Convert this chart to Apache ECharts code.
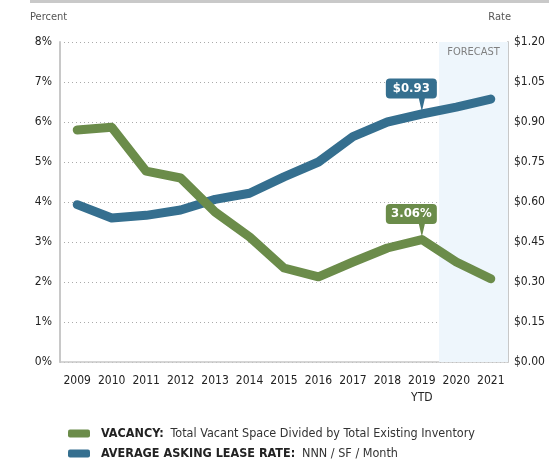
<!DOCTYPE html>
<html>
<head>
<meta charset="utf-8">
<script src="https://cdn.jsdelivr.net/npm/echarts@6/dist/echarts.min.js"></script>
<style>
  html, body { margin: 0; padding: 0; background: #fff; }
  #chart { width: 549px; height: 462px; }
</style>
</head>
<body>
<div id="chart"></div>
<script>
const years = ['2009', '2010', '2011', '2012', '2013', '2014', '2015', '2016', '2017', '2018', '2019\nYTD', '2020', '2021']
// vacancy, percent
const vacancy = [5.8, 5.87, 4.77, 4.6, 3.75, 3.13, 2.35, 2.13, 2.5, 2.85, 3.06, 2.5, 2.08]
// average asking lease rate, $ NNN / SF / month
const rate = [0.59, 0.54, 0.55, 0.57, 0.61, 0.633, 0.694, 0.75, 0.845, 0.90, 0.93, 0.956, 0.986]
const forecastYears = ['2020', '2021']

const GREEN = '#6b8c4a'
const BLUE = '#356f8f'
const FONT = '"Liberation Sans Narrow", "DejaVu Sans Condensed", sans-serif'

// callout bubble: rounded box with a pointer near the right side
const bubble = 'path://M4,0 H47 Q51,0 51,4 V16 Q51,20 47,20 H39 L36,33 L33,20 H4 Q0,20 0,16 V4 Q0,0 4,0 Z'

function callout (color, coord, text) {
  return {
    symbol: bubble,
    symbolSize: [51, 33],
    symbolKeepAspect: false,
    symbolOffset: [-10.5, -19],
    itemStyle: { color: color },
    label: {
      show: true,
      position: 'inside',
      offset: [0, -6.5],
      color: '#fff',
      fontFamily: FONT,
      fontWeight: 'bold',
      fontSize: 13,
      formatter: text
    },
    data: [{ coord: coord }]
  }
}

// forecast band edges, in category index units on a hidden value axis
const bandStart = years.indexOf(forecastYears[0]) - 0.5
const bandEnd = years.indexOf(forecastYears[1]) + 0.5

const chart = echarts.init(document.getElementById('chart'))
chart.setOption({
  animation: false,
  textStyle: { fontFamily: FONT },
  graphic: [{
    type: 'rect',
    shape: { x: 30, y: 0, width: 519, height: 3 },
    style: { fill: '#c9c9c9' }
  }],
  title: [{
    text: 'Percent',
    left: 30,
    top: 12,
    padding: 0,
    textStyle: { fontFamily: FONT, fontSize: 11, fontWeight: 'normal', color: '#555' }
  }, {
    text: 'Rate',
    right: 38,
    top: 12,
    padding: 0,
    textStyle: { fontFamily: FONT, fontSize: 11, fontWeight: 'normal', color: '#555' }
  }],
  grid: {
    left: 60,
    right: 41,
    top: 42,
    bottom: 100
  },
  legend: {
    orient: 'vertical',
    left: 68,
    top: 427,
    height: 60,
    padding: 0,
    itemWidth: 22,
    itemHeight: 8,
    itemGap: 7,
    selectedMode: false,
    data: [
      { name: 'VACANCY', icon: 'roundRect' },
      { name: 'RATE', icon: 'roundRect' }
    ],
    formatter: name => name === 'VACANCY'
      ? '{b|VACANCY:}  {n|Total Vacant Space Divided by Total Existing Inventory}'
      : '{b|AVERAGE ASKING LEASE RATE:}  {n|NNN / SF / Month}',
    textStyle: {
      rich: {
        b: { fontFamily: FONT, fontSize: 12.5, fontWeight: 'bold', color: '#222', padding: [0, 0, 0, 6] },
        n: { fontFamily: FONT, fontSize: 12.5, color: '#333' }
      }
    }
  },
  xAxis: [{
    type: 'category',
    data: years,
    axisLine: { onZero: false, lineStyle: { color: '#c8c8c8', width: 1.5 } },
    axisTick: { show: false },
    axisLabel: { interval: 0, color: '#222', fontSize: 12, lineHeight: 17, margin: 10 }
  }, {
    type: 'value',
    min: -0.5,
    max: years.length - 0.5,
    show: false
  }],
  yAxis: [{
    type: 'value',
    min: 0,
    max: 8,
    interval: 1,
    axisLine: { show: true, onZero: false, lineStyle: { color: '#c8c8c8', width: 2 } },
    axisTick: { show: false },
    axisLabel: { color: '#222', fontSize: 12, margin: 8, formatter: '{value}%' },
    splitLine: { lineStyle: { color: '#aaa', type: [1, 3] } }
  }, {
    type: 'value',
    min: 0,
    max: 1.2,
    interval: 0.15,
    axisLine: { show: true, onZero: false, lineStyle: { color: '#c8c8c8', width: 2 } },
    axisTick: { show: false },
    axisLabel: { color: '#222', fontSize: 12, margin: 6, formatter: v => '$' + v.toFixed(2) },
    splitLine: { show: false }
  }],
  series: [{
    name: 'forecast',
    type: 'line',
    xAxisIndex: 1,
    yAxisIndex: 0,
    data: [],
    silent: true,
    markArea: {
      silent: true,
      itemStyle: { color: '#eef6fc' },
      label: {
        show: true,
        position: 'insideTop',
        distance: 5,
        color: '#808080',
        fontFamily: FONT,
        fontSize: 11
      },
      data: [[{ xAxis: bandStart, yAxis: 8, name: 'FORECAST' }, { xAxis: bandEnd, yAxis: 0 }]]
    },
    z: 1
  }, {
    name: 'VACANCY',
    type: 'line',
    yAxisIndex: 0,
    data: vacancy,
    showSymbol: false,
    color: GREEN,
    lineStyle: { width: 9, cap: 'round', join: 'round' },
    markPoint: callout(GREEN, [years[10], vacancy[10]], vacancy[10].toFixed(2) + '%'),
    z: 3
  }, {
    name: 'RATE',
    type: 'line',
    yAxisIndex: 1,
    data: rate,
    showSymbol: false,
    color: BLUE,
    lineStyle: { width: 9, cap: 'round', join: 'round' },
    markPoint: callout(BLUE, [years[10], rate[10]], '$' + rate[10].toFixed(2)),
    z: 2
  }]
})
</script>
</body>
</html>
